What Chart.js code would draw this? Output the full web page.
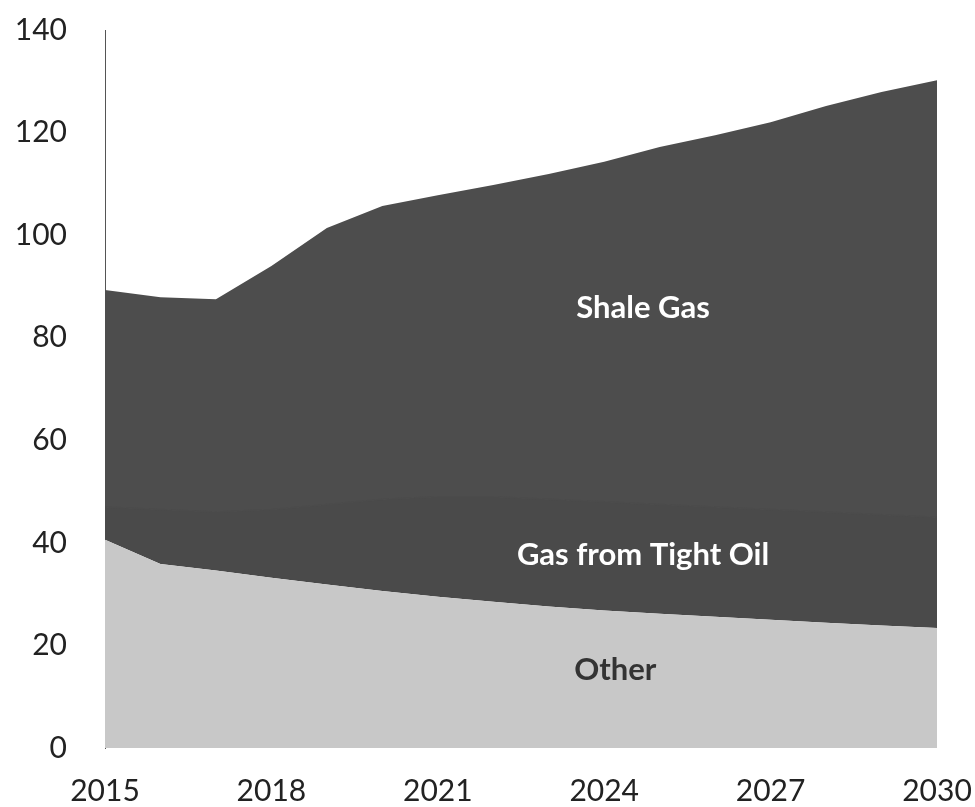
<!DOCTYPE html>
<html>
<head>
<meta charset="utf-8">
<script src="https://cdn.jsdelivr.net/npm/chart.js@4/dist/chart.umd.min.js"></script>
<style>
html,body{margin:0;padding:0;background:#fff;}
#wrap{width:975px;height:807px;position:relative;}
</style>
</head>
<body>
<div id="wrap"><canvas id="c" width="975" height="807"></canvas></div>
<script>
const years = [2015,2016,2017,2018,2019,2020,2021,2022,2023,2024,2025,2026,2027,2028,2029,2030];
const other = [40.6,35.9,34.6,33.2,31.9,30.6,29.5,28.5,27.6,26.8,26.2,25.6,25.0,24.4,23.9,23.4];
const tightOil = [6.4,10.6,11.4,13.3,15.6,17.9,19.5,20.5,20.9,21.2,21.3,21.4,21.5,21.6,21.6,21.6];
const shaleGas = [42.3,41.4,41.5,47.5,53.9,57.2,58.8,60.8,63.4,66.3,69.7,72.5,75.5,79.2,82.4,85.2];
const yTicks = [0,20,40,60,80,100,120,140];
const xTicks = [2015,2018,2021,2024,2027,2030];
const seriesNames = ["Other","Gas from Tight Oil","Shale Gas"];
const areaLabels = [
  {text:"Shale Gas", x:2024.7, y:85.8, color:"#ffffff"},
  {text:"Gas from Tight Oil", x:2024.7, y:37.6, color:"#ffffff"},
  {text:"Other", x:2024.2, y:15.2, color:"#333333"}
];

const FONT = "Lato, 'Open Sans', sans-serif";

const labelPlugin = {
  id:'areaLabels',
  afterDatasetsDraw(chart){
    const {ctx, scales:{x,y}} = chart;
    ctx.save();
    ctx.font = "bold 31px " + FONT;
    ctx.textAlign = 'center';
    ctx.textBaseline = 'middle';
    areaLabels.forEach(l=>{
      ctx.fillStyle = l.color;
      ctx.fillText(l.text, x.getPixelForValue(l.x), y.getPixelForValue(l.y));
    });
    ctx.restore();
  }
};

const mk = (arr)=>years.map((yr,i)=>({x:yr,y:arr[i]}));

new Chart(document.getElementById('c'), {
  type:'line',
  data:{
    datasets:[
      {label:seriesNames[0], data:mk(other), backgroundColor:'#c8c8c8', borderColor:'#c8c8c8', borderWidth:0, fill:'origin', pointRadius:0, tension:0},
      {label:seriesNames[1], data:mk(tightOil), backgroundColor:'#4a4a4a', borderColor:'#4b4b4b', borderWidth:1.5, fill:'-1', pointRadius:0, tension:0},
      {label:seriesNames[2], data:mk(shaleGas), backgroundColor:'#4d4d4d', borderColor:'#4d4d4d', borderWidth:0, fill:'-1', pointRadius:0, tension:0}
    ]
  },
  options:{
    responsive:false,
    animation:false,
    layout:{autoPadding:false, padding:{top:30,right:38,bottom:0,left:0}},
    plugins:{legend:{display:false}, tooltip:{enabled:false}},
    scales:{
      x:{
        type:'linear', min:2015, max:2030,
        afterBuildTicks(s){ s.ticks = xTicks.map(v=>({value:v})); },
        afterFit(s){ s.height = 807-748; s.paddingLeft = 0; s.paddingRight = 0; },
        grid:{display:false, drawTicks:false},
        border:{display:false},
        ticks:{color:'#222', font:{family:FONT, size:30}, padding:25, callback:v=>String(v), maxRotation:0, autoSkip:false}
      },
      y:{
        stacked:true, min:0, max:140,
        afterBuildTicks(s){ s.ticks = yTicks.map(v=>({value:v})); },
        afterFit(s){ s.width = 105; s.paddingTop = 0; s.paddingBottom = 0; },
        grid:{display:false, drawTicks:false},
        border:{display:true, color:'#555', width:1},
        ticks:{color:'#222', font:{family:FONT, size:30}, padding:38}
      }
    }
  },
  plugins:[labelPlugin]
});
</script>
</body>
</html>
